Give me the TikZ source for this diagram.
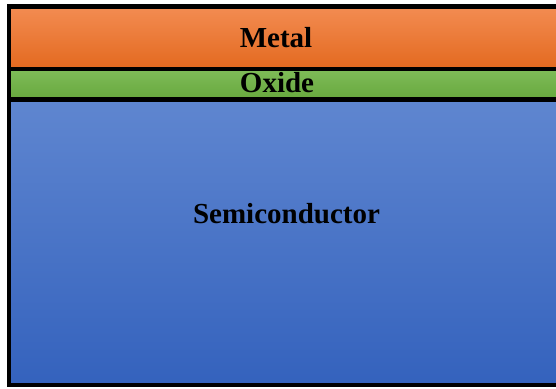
\documentclass[tikz,border=0pt]{standalone}
\usepackage{fontspec}
\setmainfont{Liberation Serif}
\definecolor{metalTop}{HTML}{F38C52}
\definecolor{metalBot}{HTML}{E3691F}
\definecolor{oxTop}{HTML}{7FBC59}
\definecolor{oxBot}{HTML}{67A83D}
\definecolor{semTop}{HTML}{5F86D0}
\definecolor{semBot}{HTML}{3462BD}
\tikzset{
  layerlabel/.style={font=\fontsize{29}{33}\selectfont\bfseries, text=black, inner sep=0pt, anchor=base},
  border/.style={draw=black, line width=4.5pt}
}
\begin{document}
\begin{tikzpicture}[x=1pt,y=1pt]
\useasboundingbox (0,0) rectangle (556,388);
\clip (0,0) rectangle (556,388);
\fill[white] (0,0) rectangle (556,388);
% layers (y measured from bottom: y = 388 - pixel row)
\shade[top color=metalTop, bottom color=metalBot] (9,381.5) rectangle (580,319);
\shade[top color=oxTop, bottom color=oxBot] (9,319) rectangle (580,288.5);
\shade[top color=semTop, bottom color=semBot] (9,288.5) rectangle (580,3);
% borders
\draw[border] (580,381.5) -- (9,381.5) -- (9,3) -- (580,3);
\draw[border] (9,319) -- (580,319);
\draw[border] (9,288.5) -- (580,288.5);
% labels
\node[layerlabel] (metal) at (276,340) {Metal};
\node[layerlabel] (oxide) at (277,295.8) {Oxide};
\node[layerlabel] (semi) at (286.5,164.7) {Semiconductor};
\end{tikzpicture}
\end{document}
